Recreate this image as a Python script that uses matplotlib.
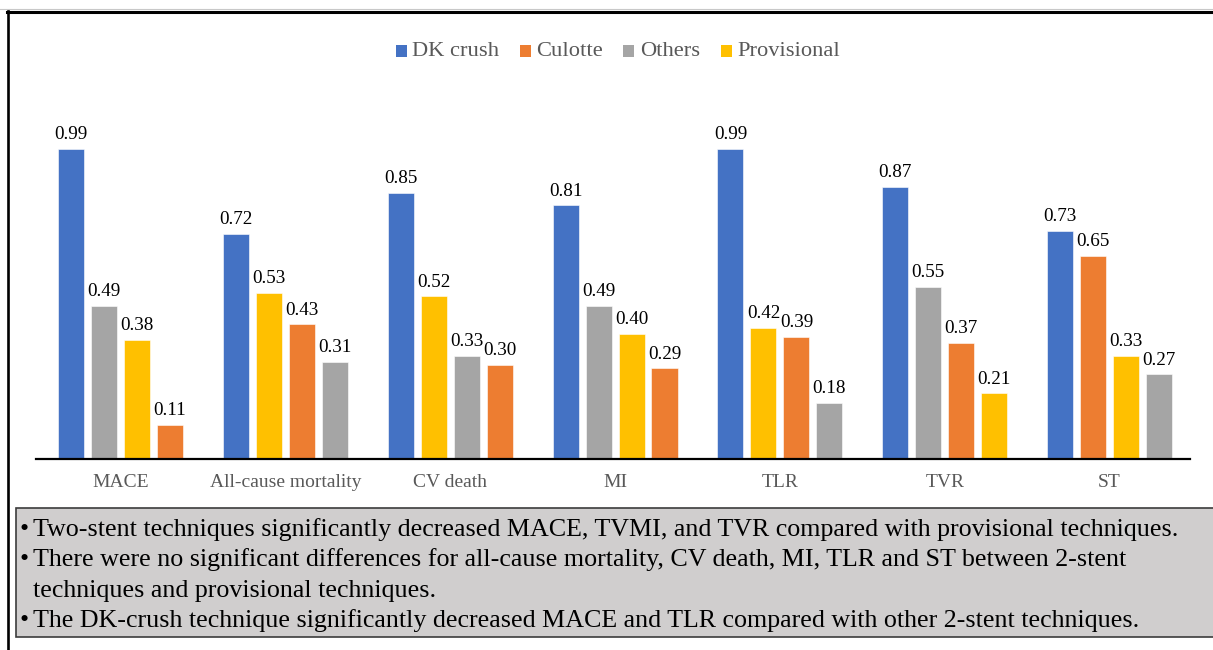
import numpy as np
import matplotlib
matplotlib.use("Agg")
import matplotlib.pyplot as plt
from matplotlib.patches import Rectangle
from matplotlib.lines import Line2D

# ---- data ----
outcomes = ["MACE", "All-cause mortality", "CV death", "MI", "TLR", "TVR", "ST"]
series_names = ["DK crush", "Culotte", "Others", "Provisional"]
dk_crush = [0.99, 0.72, 0.85, 0.81, 0.99, 0.87, 0.73]
culotte = [0.11, 0.43, 0.30, 0.29, 0.39, 0.37, 0.65]
others = [0.49, 0.31, 0.33, 0.49, 0.18, 0.55, 0.27]
provisional = [0.38, 0.53, 0.52, 0.40, 0.42, 0.21, 0.33]
series_colors = ["#4472C4", "#ED7D31", "#A5A5A5", "#FFC000"]

notes = [
    ("\u2022", "Two-stent techniques significantly decreased MACE, TVMI, and TVR compared with provisional techniques."),
    ("\u2022", "There were no significant differences for all-cause mortality, CV death, MI, TLR and ST between 2-stent"),
    ("", "techniques and provisional techniques."),
    ("\u2022", "The DK-crush technique significantly decreased MACE and TLR compared with other 2-stent techniques."),
]

SERIF = ["Liberation Serif", "DejaVu Serif"]
W, H = 1213, 650


def fx(px):
    return px / W


def fy(py):
    return 1 - py / H


fig = plt.figure(figsize=(W / 100, H / 100), dpi=100)
fig.patch.set_facecolor("white")

# plot area
ax = fig.add_axes([fx(36), fy(459), (1190 - 36) / W, 313 / H])
ax.set_xlim(-0.513, 6.488)
ax.set_ylim(0, 1.0)

values = np.array([dk_crush, culotte, others, provisional])
n_series, n_cat = values.shape
# bars inside each outcome group are ordered from highest to lowest
order = np.argsort(-values, axis=0, kind="stable")
rank = np.empty_like(order)
for j in range(n_cat):
    rank[order[:, j], j] = np.arange(n_series)

pitch = 0.2
width = 0.158
centers = np.arange(n_cat)
for i in range(n_series):
    xs = centers + (rank[i] - (n_series - 1) / 2) * pitch
    bars = ax.bar(xs, values[i], width=width, color=series_colors[i],
                  edgecolor="white", linewidth=0.4, label=series_names[i], zorder=2)
    for b, v in zip(bars, values[i]):
        ax.annotate(f"{v:.2f}", (b.get_x() + b.get_width() / 2, v),
                    xytext=(0, 7), textcoords="offset points",
                    ha="center", va="baseline", fontsize=13.8,
                    family=SERIF, color="black", zorder=3)

for s in ("left", "right", "top"):
    ax.spines[s].set_visible(False)
ax.spines["bottom"].set_linewidth(1.6)
ax.spines["bottom"].set_color("black")
ax.spines["bottom"].set_zorder(4)
ax.set_yticks([])
ax.set_xticks(centers)
ax.set_xticklabels(outcomes, fontsize=14, family=SERIF, color="#595959")
ax.tick_params(axis="x", length=0, pad=11)

# legend drawn across the top
legend_items = [(396, 412), (520, 536), (623, 640), (721, 737)]
for (sq_x, tx_x), name, col in zip(legend_items, series_names, series_colors):
    fig.patches.append(Rectangle((fx(sq_x), fy(57)), 11 / W, 12 / H,
                                 transform=fig.transFigure, facecolor=col,
                                 edgecolor="none"))
    fig.text(fx(tx_x), fy(51.5), name, fontsize=16.2, family=SERIF,
             color="#595959", ha="left", va="center")

# notes box
fig.patches.append(Rectangle((fx(15.5), fy(637)), (W + 5 - 15.5) / W, (637 - 508) / H,
                             transform=fig.transFigure, facecolor="#D0CECE",
                             edgecolor="#3C3C3C", linewidth=1.2, zorder=1))
baselines = [536, 566, 597, 627]
for (bullet, line), yb in zip(notes, baselines):
    if bullet:
        fig.text(fx(19.5), fy(yb), bullet, fontsize=18.7, family=SERIF,
                 color="black", ha="left", va="baseline", zorder=2)
    fig.text(fx(33), fy(yb), line, fontsize=18.7, family=SERIF,
             color="black", ha="left", va="baseline", zorder=2)

# outer frame
fig.lines.append(Line2D([0, 1], [fy(8.5), fy(8.5)], transform=fig.transFigure,
                        color="#C8C8C8", linewidth=0.8))
fig.lines.append(Line2D([fx(7), 1], [fy(11.8), fy(11.8)], transform=fig.transFigure,
                        color="black", linewidth=2.2))
fig.lines.append(Line2D([fx(8.3), fx(8.3)], [fy(10.5), 0], transform=fig.transFigure,
                        color="black", linewidth=1.9))

fig.savefig("out.png", dpi=100)
